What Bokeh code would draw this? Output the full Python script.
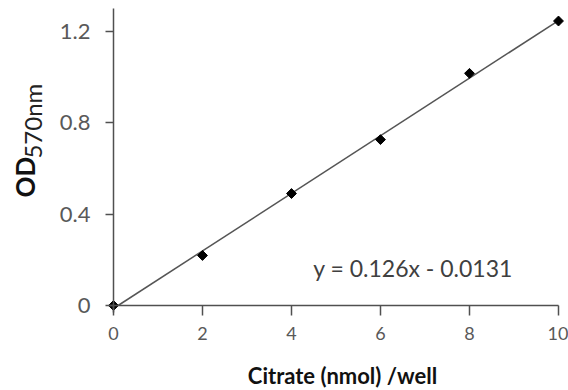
import numpy as np
from math import pi
from bokeh.plotting import figure
from bokeh.models import Range1d, FixedTicker, Label
from bokeh.embed import file_html
from bokeh.resources import INLINE

# data
citrate = [0, 2, 4, 6, 8, 10]
od = [0.0, 0.219, 0.49, 0.726, 1.016, 1.245]
slope = 0.126
intercept = -0.0131
x_ticks = [0, 2, 4, 6, 8, 10]
x_tick_labels = ["0", "2", "4", "6", "8", "10"]
y_ticks = [0, 0.4, 0.8, 1.2]
y_tick_labels = ["0", "0.4", "0.8", "1.2"]
equation = "y = 0.126x - 0.0131"
x_title = "Citrate (nmol) /well"
y_title_main = "OD"
y_title_sub = "570nm"

FONT = "Lato"

# frame covers the whole canvas; axes are fixed at x=0 / y=0
p = figure(width=568, height=390, x_range=Range1d(-2.539, 10.225), y_range=Range1d(-0.372, 1.3348),
           output_backend="svg", toolbar_location=None, title=None,
           min_border_left=0, min_border_right=0, min_border_top=0, min_border_bottom=0)
p.outline_line_color = None
p.grid.visible = False
p.background_fill_color = "white"
p.border_fill_color = "white"

for ax in (p.xaxis, p.yaxis):
    ax.fixed_location = 0
    ax.axis_line_color = "#505050"
    ax.axis_line_width = 1.5
    ax.major_tick_line_color = "#505050"
    ax.major_tick_line_width = 1.5
    ax.major_tick_in = 0
    ax.minor_tick_line_color = None
    ax.major_label_text_color = "#595959"
    ax.major_label_text_font = FONT

p.xaxis.bounds = (-0.12, 10)
p.xaxis.ticker = FixedTicker(ticks=x_ticks)
p.xaxis.major_label_overrides = {t: l for t, l in zip(x_ticks, x_tick_labels)}
p.xaxis.major_tick_out = 10
p.xaxis.major_label_standoff = 12
p.xaxis.major_label_text_font_size = "18px"

p.yaxis.bounds = (-0.03, 1.2998)
p.yaxis.ticker = FixedTicker(ticks=y_ticks)
p.yaxis.major_label_overrides = {t: l for t, l in zip(y_ticks, y_tick_labels)}
p.yaxis.major_tick_out = 8
p.yaxis.major_label_standoff = 15
p.yaxis.major_label_text_font_size = "22px"

# trend line
x0 = -intercept / slope
xf = np.array([x0, citrate[-1]])
yf = slope * xf + intercept
p.line(xf, yf, line_color="#555555", line_width=1.5)

p.scatter(citrate, od, marker="square", angle=pi / 4, size=7, color="black")

p.add_layout(Label(x=4.49, y=0.162, text=equation, text_font=FONT, text_font_size="23px",
                   text_color="#404040", text_align="left", text_baseline="alphabetic"))
p.add_layout(Label(x=5.146, y=-0.306, text=x_title, text_font=FONT, text_font_size="22px",
                   text_font_style="bold", text_color="#111111", text_align="center",
                   text_baseline="alphabetic"))
p.add_layout(Label(x=-1.978, y=0.473, text=y_title_main, angle=pi / 2, text_font=FONT,
                   text_font_size="26px", text_font_style="bold", text_color="#111111",
                   text_align="left", text_baseline="alphabetic"))
p.add_layout(Label(x=-1.82, y=0.643, text=y_title_sub, angle=pi / 2, text_font=FONT,
                   text_font_size="24px", text_color="#222222",
                   text_align="left", text_baseline="alphabetic"))

open("out.html", "w").write(file_html(p, INLINE))
